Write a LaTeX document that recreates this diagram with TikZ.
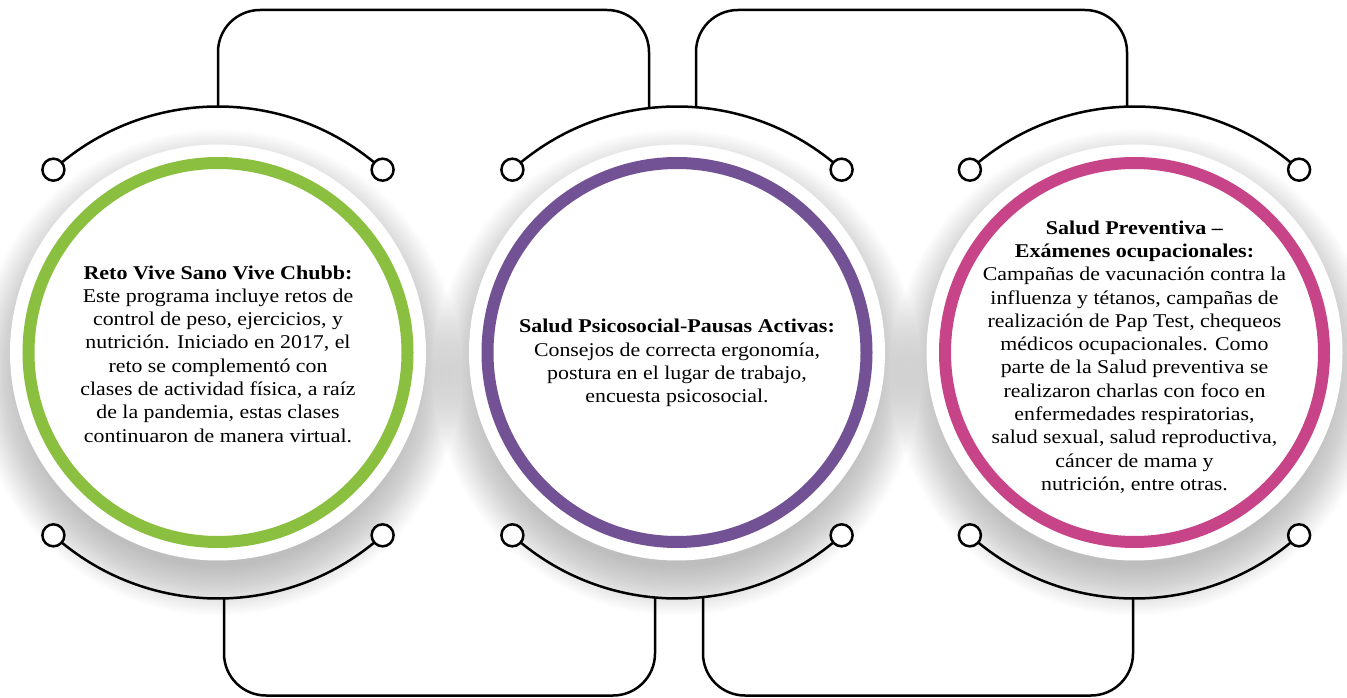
\documentclass[tikz,border=0pt]{standalone}
\usepackage{fontspec}
\setmainfont{Liberation Serif}[FakeStretch=1.12, BoldFeatures={FakeStretch=1.13}]
\usetikzlibrary{calc}
\definecolor{ringgreen}{RGB}{139,191,63}
\definecolor{ringpurple}{RGB}{114,82,148}
\definecolor{ringpink}{RGB}{200,68,136}
\tikzset{
  dot/.style={circle, draw=black, fill=white, line width=2.5pt, minimum size=22pt, inner sep=0pt},
  wire/.style={draw=black, line width=2.5pt},
  ring/.style={circle, line width=12pt, minimum size=379pt, inner sep=0pt},
  disk/.style={circle, fill=white, minimum size=416pt, inner sep=0pt},
  txt/.style={align=center, font=\fontsize{19.5}{23.3}\selectfont, inner sep=0pt},
}
\newcommand{\circshadow}[1]{%
  \foreach \i in {0,...,24}{%
    \fill[black, opacity=0.012] ($(#1)+(0,-20)$) circle ({195+2*\i});
  }%
}
\begin{document}
\begin{tikzpicture}[x=1pt,y=1pt]
\useasboundingbox (0,0) rectangle (1347,697);
\coordinate (c1) at (218,344.5);
\coordinate (c2) at (677,344.5);
\coordinate (c3) at (1134.5,344.5);
% shadows and disks
\circshadow{c1}
\circshadow{c2}
\circshadow{c3}
\node[disk] (w1) at (c1) {};
\node[disk] (w2) at (c2) {};
\node[disk] (w3) at (c3) {};
\node[ring, draw=ringgreen] (r1) at (c1) {};
\node[ring, draw=ringpurple] (r2) at (c2) {};
\node[ring, draw=ringpink] (r3) at (c3) {};
% arc end points
\foreach \c in {1,2,3}{
  \coordinate (tl\c) at ($(c\c)+(132:246)$);
  \coordinate (tr\c) at ($(c\c)+(48:246)$);
  \coordinate (bl\c) at ($(c\c)+(228:246)$);
  \coordinate (br\c) at ($(c\c)+(312:246)$);
  \draw[wire] (tl\c) arc[start angle=132, end angle=48, radius=246];
  \draw[wire] (bl\c) arc[start angle=228, end angle=312, radius=246];
}
% connector feet on arcs
\coordinate (ka) at (218,590.5);
\coordinate (kb) at (649,588.9);
\coordinate (kc) at (696,589.8);
\coordinate (kd) at (1127,590.4);
\coordinate (ke) at (224,98.6);
\coordinate (kf) at (655,99.5);
\coordinate (kg) at (703,99.9);
\coordinate (kh) at (1133,98.5);
\coordinate (ma) at (433.5,687);
\coordinate (mb) at (911.5,687);
\coordinate (mc) at (439.5,1.5);
\coordinate (md) at (918,1.5);
\draw[wire, rounded corners=42pt] (ka) |- (ma) -| (kb);
\draw[wire, rounded corners=42pt] (kc) |- (mb) -| (kd);
\draw[wire, rounded corners=42pt] (ke) |- (mc) -| (kf);
\draw[wire, rounded corners=42pt] (kg) |- (md) -| (kh);
% small circles
\foreach \c in {1,2,3}{
  \node[dot] (dtl\c) at (tl\c) {};
  \node[dot] (dtr\c) at (tr\c) {};
  \node[dot] (dbl\c) at (bl\c) {};
  \node[dot] (dbr\c) at (br\c) {};
}
% texts
\node[txt] (t1) at (218,343) {\textbf{Reto Vive Sano Vive Chubb:}\\
Este programa incluye retos de\\
control de peso, ejercicios, y\\
nutrición. Iniciado en 2017, el\\
reto se complementó con\\
clases de actividad física, a raíz\\
de la pandemia, estas clases\\
continuaron de manera virtual.};
\node[txt] (t2) at (677,334) {\textbf{Salud Psicosocial-Pausas Activas:}\\
Consejos de correcta ergonomía,\\
postura en el lugar de trabajo,\\
encuesta psicosocial.};
\node[txt] (t3) at (1134.5,340) {\textbf{Salud Preventiva –}\\
\textbf{Exámenes ocupacionales:}\\
Campañas de vacunación contra la\\
influenza y tétanos, campañas de\\
realización de Pap Test, chequeos\\
médicos ocupacionales. Como\\
parte de la Salud preventiva se\\
realizaron charlas con foco en\\
enfermedades respiratorias,\\
salud sexual, salud reproductiva,\\
cáncer de mama y\\
nutrición, entre otras.};
\end{tikzpicture}
\end{document}
